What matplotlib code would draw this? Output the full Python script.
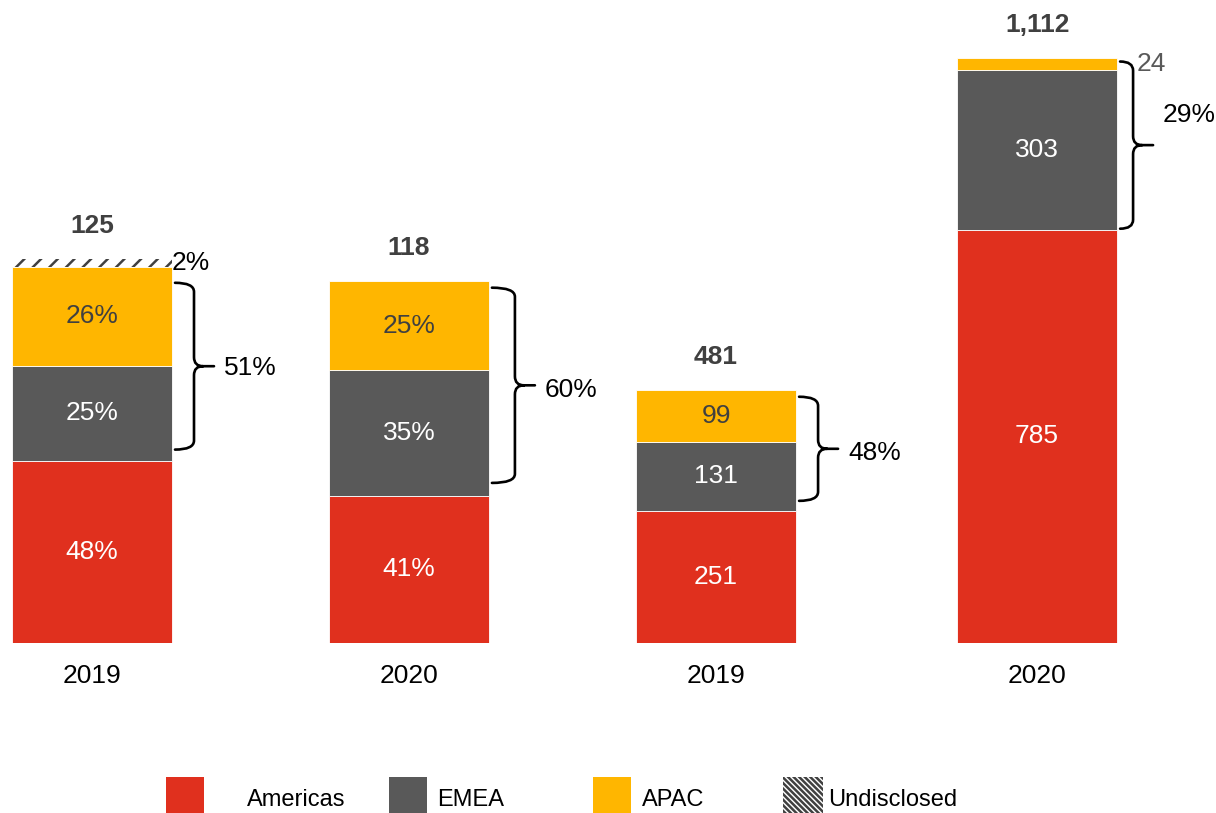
import matplotlib
matplotlib.use("Agg")

import matplotlib.pyplot as plt
from matplotlib.path import Path
from matplotlib.patches import PathPatch, Rectangle

# ------------------ DATA ------------------

YEARS = ["2019", "2020", "2019", "2020"]
REGIONS = ["Americas", "EMEA", "APAC", "Undisclosed"]

# left pair: share of deals (%) and deal totals
share_totals = [125, 118]
share_americas = [48, 41]
share_emea = [25, 35]
share_apac = [26, 25]
share_undisclosed = [2, 0]

# right pair: deal counts
count_americas = [251, 785]
count_emea = [131, 303]
count_apac = [99, 24]

# ------------------ STYLE ------------------

RED = "#E0301E"
GRAY = "#595959"
YELLOW = "#FFB600"
DARK = "#404040"
HATCH_COLOR = "#404040"

plt.rcParams["font.family"] = ["Liberation Sans", "DejaVu Sans"]
plt.rcParams["hatch.linewidth"] = 1.8

W, H = 1216, 813
X_POS = [0, 1.006, 1.981, 3]
BAR_WIDTH = 0.508
FS = 19

# brace tweaks in pixels: (top inset, bottom inset), horizontal shift, label vertical shift
BRACE_INSETS = [(16, 11), (7, 13), (7, 10), (4, 1)]
BRACE_DX = [0, 4, 0, -6]
BRACE_LABEL_DY = [-2, -5, -4, 30]


def fx(px):
    return px / W


def fy(py):
    return 1 - py / H


fig = plt.figure(figsize=(W / 100, H / 100), dpi=100)
ax_l = fig.add_axes([0, fy(643), 1, 643 / H])
ax_r = fig.add_axes([0, fy(643), 1, 643 / H])
ax_r.patch.set_visible(False)

for ax in (ax_l, ax_r):
    ax.set_xlim(-0.292, 3.568)
    for s in ax.spines.values():
        s.set_visible(False)
    ax.set_yticks([])
ax_l.set_ylim(0, 643 / 3.04)
ax_r.set_ylim(0, 643 / 0.5265)

ax_l.set_xticks(X_POS, YEARS, fontsize=FS)
ax_l.tick_params(axis="x", length=0, pad=15)
ax_r.set_xticks([])


def px_height(ax, h):
    p0 = ax.transData.transform((0, 0))
    p1 = ax.transData.transform((0, h))
    return p1[1] - p0[1]


def draw_brace(ax, x_right, y_lo, y_hi, k, label):
    to_px = ax.transData.transform
    xr, yt = to_px((x_right, y_hi))
    _, yb = to_px((x_right, y_lo))
    yt -= BRACE_INSETS[k][0]
    yb += BRACE_INSETS[k][1]
    ym = (yt + yb) / 2
    dx = BRACE_DX[k]
    x_end, x_v, x_tip, r = xr + 3, xr + 22 + dx, xr + 42 + dx, 9
    verts = [
        (x_end, yt), (x_v, yt), (x_v, yt - r),
        (x_v, ym + r), (x_v, ym), (x_v + r, ym),
        (x_tip, ym),
        (x_v + r, ym), (x_v, ym), (x_v, ym - r),
        (x_v, yb + r), (x_v, yb), (x_end, yb),
    ]
    codes = [
        Path.MOVETO, Path.CURVE3, Path.CURVE3,
        Path.LINETO, Path.CURVE3, Path.CURVE3,
        Path.LINETO,
        Path.MOVETO, Path.CURVE3, Path.CURVE3,
        Path.LINETO, Path.CURVE3, Path.CURVE3,
    ]
    inv = ax.transData.inverted()
    verts = inv.transform(verts)
    ax.add_patch(PathPatch(Path(verts, codes), fill=False, lw=1.9,
                           edgecolor="black", capstyle="round"))
    lx, ly = inv.transform((x_tip + 10, ym + BRACE_LABEL_DY[k]))
    ax.text(lx, ly, label, ha="left", va="center", fontsize=FS, color="black")


def draw_stack(ax, xs, layers, total_labels, brace_labels, idx0):
    bottom = [0.0] * len(xs)
    emea_bottom = [0.0] * len(xs)
    apac_top = [0.0] * len(xs)
    for name, heights, labels, color in layers:
        hatch = "//" if name == "Undisclosed" else None
        face = "white" if hatch else color
        edge = HATCH_COLOR if hatch else "white"
        lw = 0 if hatch else 0.6
        ax.bar(xs, heights, BAR_WIDTH, bottom=bottom, color=face,
               edgecolor=edge, linewidth=lw, hatch=hatch)
        for x, b, h, lab in zip(xs, bottom, heights, labels):
            if h <= 0:
                continue
            yc = b + h / 2
            if px_height(ax, h) >= 20:
                tc = DARK if color == YELLOW else "white"
                ax.text(x, yc, lab, ha="center", va="center", fontsize=FS, color=tc)
            elif name == "Undisclosed":
                ax.annotate(lab, (x + BAR_WIDTH / 2, yc), xytext=(0, 0),
                            textcoords="offset pixels", ha="left", va="center",
                            fontsize=FS, color="black")
            else:
                ax.annotate(lab, (x + BAR_WIDTH / 2, yc), xytext=(20, 0),
                            textcoords="offset pixels", ha="left", va="center",
                            fontsize=FS, color=GRAY)
        if name == "EMEA":
            emea_bottom = list(bottom)
        bottom = [b + h for b, h in zip(bottom, heights)]
        if name == "APAC":
            apac_top = list(bottom)

    for i, x in enumerate(xs):
        ax.annotate(total_labels[i], (x, bottom[i]), xytext=(0, 33),
                    textcoords="offset pixels", ha="center", va="center",
                    fontsize=FS, fontweight="bold", color=DARK)
        draw_brace(ax, x + BAR_WIDTH / 2, emea_bottom[i], apac_top[i],
                   idx0 + i, brace_labels[i])


# ------------------ LEFT PAIR (shares) ------------------

def share_heights(vals):
    return [v / 100 * t for v, t in zip(vals, share_totals)]


left_layers = [
    ("Americas", share_heights(share_americas), [f"{v}%" for v in share_americas], RED),
    ("EMEA", share_heights(share_emea), [f"{v}%" for v in share_emea], GRAY),
    ("APAC", share_heights(share_apac), [f"{v}%" for v in share_apac], YELLOW),
    ("Undisclosed", share_heights(share_undisclosed), [f"{v}%" for v in share_undisclosed], "white"),
]
left_brace = [f"{e + a}%" for e, a in zip(share_emea, share_apac)]
draw_stack(ax_l, X_POS[:2], left_layers,
           [f"{t:,}" for t in share_totals], left_brace, 0)

# ------------------ RIGHT PAIR (counts) ------------------

count_totals = [a + e + p for a, e, p in zip(count_americas, count_emea, count_apac)]
right_layers = [
    ("Americas", count_americas, [str(v) for v in count_americas], RED),
    ("EMEA", count_emea, [str(v) for v in count_emea], GRAY),
    ("APAC", count_apac, [str(v) for v in count_apac], YELLOW),
]
right_brace = [f"{round(100 * (e + p) / t)}%" for e, p, t in zip(count_emea, count_apac, count_totals)]
draw_stack(ax_r, X_POS[2:], right_layers,
           [f"{t:,}" for t in count_totals], right_brace, 2)

# ------------------ LEGEND ------------------

LEG_PATCH_X = [166, 389, 593, 783]
LEG_TEXT_X = [247, 437, 642, 828]
leg_colors = [RED, GRAY, YELLOW, "white"]

for name, c, px, tx in zip(REGIONS, leg_colors, LEG_PATCH_X, LEG_TEXT_X):
    if name == "Undisclosed":
        rect = Rectangle((fx(px), fy(820)), 40 / W, (820 - 777) / H,
                         transform=fig.transFigure, facecolor="white",
                         edgecolor=HATCH_COLOR, linewidth=0, hatch="\\\\\\\\\\\\")
    else:
        rect = Rectangle((fx(px), fy(820)), 38 / W, (820 - 777) / H,
                         transform=fig.transFigure, facecolor=c, linewidth=0)
    fig.add_artist(rect)
    fig.text(fx(tx), fy(800), name, ha="left", va="center", fontsize=17, color="black")

fig.savefig("out.png", dpi=100)
plt.close(fig)
